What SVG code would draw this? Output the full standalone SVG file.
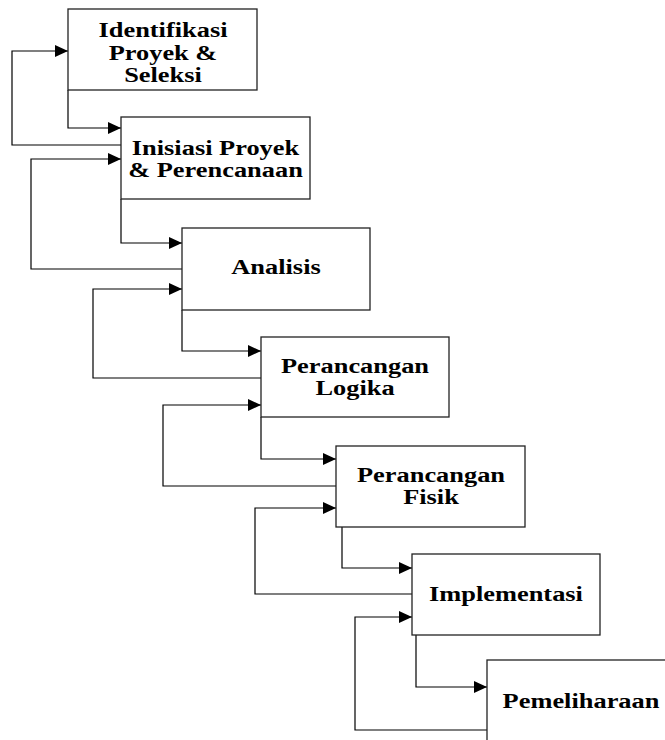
<svg xmlns="http://www.w3.org/2000/svg" width="665" height="740" viewBox="0 0 665 740">
<defs>
<marker id="arr" markerUnits="userSpaceOnUse" markerWidth="14" markerHeight="12" refX="13" refY="6" orient="auto">
<path d="M0,0 L13,6 L0,12 Z" fill="#000"/>
</marker>
<style>
.box{fill:#fff;stroke:#222;stroke-width:1.3}
.lbl{font-family:"Liberation Serif","Times New Roman",serif;font-weight:bold;font-size:20px;fill:#000;text-anchor:middle}
.con{fill:none;stroke:#000;stroke-width:1.2;marker-end:url(#arr)}
</style>
</defs>
<rect width="665" height="740" fill="#fff"/>
<g id="connectors">
<path class="con" d="M68,90 V128 H121"/>
<path class="con" d="M121,145 H12 V51 H68"/>
<path class="con" d="M121,199 V243 H182"/>
<path class="con" d="M182,269 H31 V159 H121"/>
<path class="con" d="M182,310 V351 H261"/>
<path class="con" d="M261,378 H93 V289 H182"/>
<path class="con" d="M261,417 V459 H336"/>
<path class="con" d="M336,486 H163 V405 H261"/>
<path class="con" d="M342,527 V568 H412"/>
<path class="con" d="M412,594 H255 V508 H336"/>
<path class="con" d="M416,635 V687 H487"/>
<path class="con" d="M487,730 H355 V617 H412"/>
</g>
<g id="n1">
<rect class="box" x="68" y="9" width="189" height="81"/>
<text class="lbl" transform="translate(163 37) scale(1.32 1)">Identifikasi</text>
<text class="lbl" transform="translate(163 59.5) scale(1.32 1)">Proyek &amp;</text>
<text class="lbl" transform="translate(163 82) scale(1.32 1)">Seleksi</text>
</g>
<g id="n2">
<rect class="box" x="121" y="117" width="189" height="82"/>
<text class="lbl" transform="translate(215.5 154.5) scale(1.32 1)">Inisiasi Proyek</text>
<text class="lbl" transform="translate(215.5 177) scale(1.32 1)">&amp; Perencanaan</text>
</g>
<g id="n3">
<rect class="box" x="182" y="228" width="188" height="82"/>
<text class="lbl" transform="translate(276 274) scale(1.32 1)">Analisis</text>
</g>
<g id="n4">
<rect class="box" x="261" y="337" width="188" height="80"/>
<text class="lbl" transform="translate(355 373) scale(1.32 1)">Perancangan</text>
<text class="lbl" transform="translate(355 395) scale(1.32 1)">Logika</text>
</g>
<g id="n5">
<rect class="box" x="336" y="446" width="189" height="81"/>
<text class="lbl" transform="translate(431 482) scale(1.32 1)">Perancangan</text>
<text class="lbl" transform="translate(431 504) scale(1.32 1)">Fisik</text>
</g>
<g id="n6">
<rect class="box" x="412" y="554" width="188" height="81"/>
<text class="lbl" transform="translate(506 601) scale(1.32 1)">Implementasi</text>
</g>
<g id="n7">
<rect class="box" x="487" y="660" width="190" height="100"/>
<text class="lbl" transform="translate(581 708) scale(1.32 1)">Pemeliharaan</text>
</g>
</svg>
